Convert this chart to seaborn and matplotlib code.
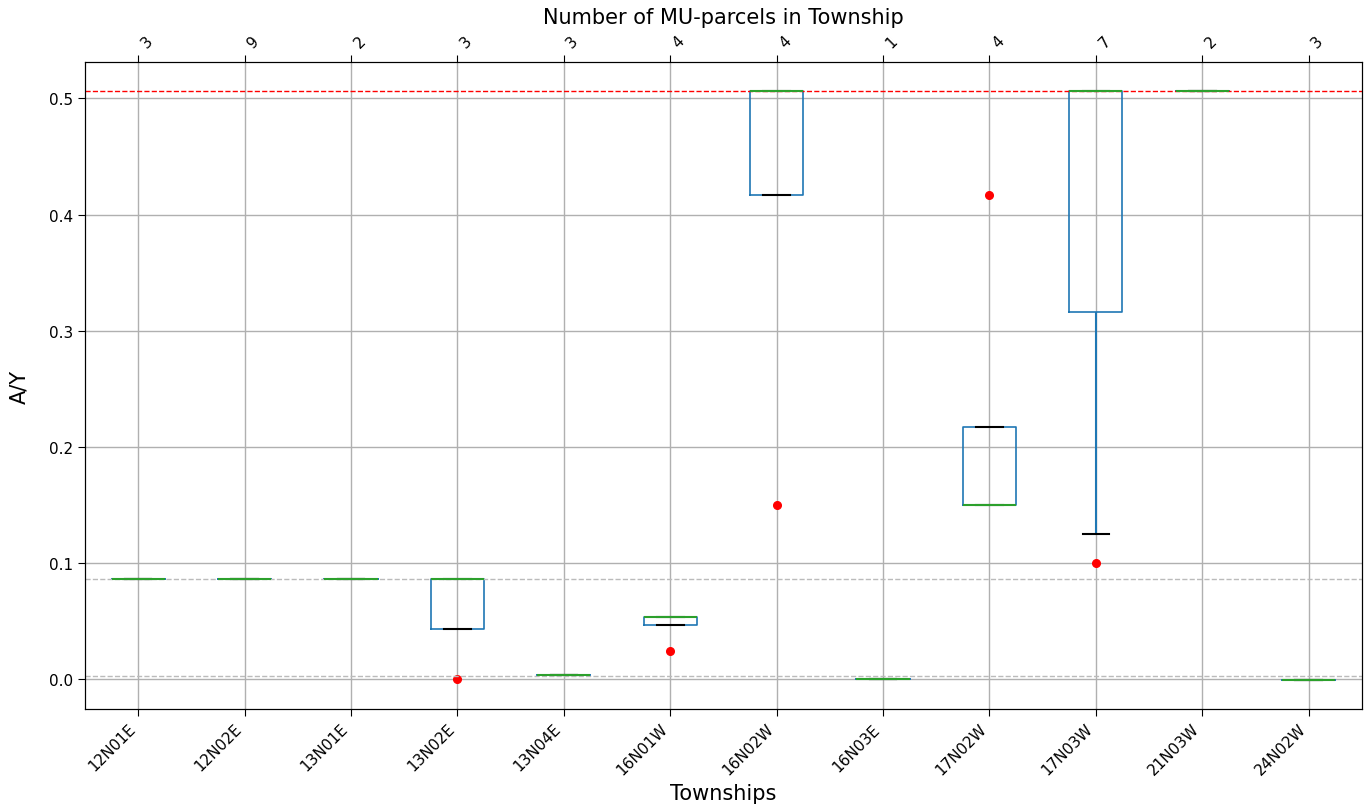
import matplotlib
matplotlib.use("Agg")
import matplotlib.pyplot as plt
import pandas as pd
import seaborn as sns

townships = ["12N01E", "12N02E", "13N01E", "13N02E", "13N04E", "16N01W",
             "16N02W", "16N03E", "17N02W", "17N03W", "21N03W", "24N02W"]
parcel_counts = [3, 9, 2, 3, 3, 4, 4, 1, 4, 7, 2, 3]
ay_values = [
    [0.0866, 0.0866, 0.0866],
    [0.0866] * 9,
    [0.0866, 0.0866],
    [0.0, 0.0866, 0.0866],
    [0.0035, 0.0035, 0.0035],
    [0.0245, 0.0537, 0.0537, 0.0537],
    [0.15, 0.506, 0.506, 0.506],
    [0.0005],
    [0.15, 0.15, 0.15, 0.417],
    [0.0997, 0.1254, 0.506, 0.506, 0.506, 0.506, 0.506],
    [0.506, 0.506],
    [-0.0003, -0.0003, -0.0003],
]
ref_red = 0.506
ref_gray = [0.0866, 0.0026]

rows = []
for t, vals in zip(townships, ay_values):
    for v in vals:
        rows.append({"township": t, "ay": v})
df = pd.DataFrame(rows)

fig, ax = plt.subplots(figsize=(13.66, 8.12), dpi=100)
fig.subplots_adjust(left=0.0622, right=0.997, top=0.9224, bottom=0.1256)

sns.boxplot(data=df, x="township", y="ay", order=townships, ax=ax,
            whis=(5, 95), width=0.5, fill=False, linewidth=1.2,
            boxprops=dict(color="C0"),
            whiskerprops=dict(color="C0", lw=1.5),
            capprops=dict(color="k", lw=1.5),
            medianprops=dict(color="C2", lw=1.5),
            flierprops=dict(marker="o", markerfacecolor="red",
                            markeredgecolor="red", markersize=5.5))

ax.axhline(ref_red, color="red", ls="--", lw=1)
for g in ref_gray:
    ax.axhline(g, color="#bbbbbb", ls="--", lw=1)

ax.grid(True, color="#b0b0b0", lw=1)
ax.set_axisbelow(True)
ax.set_xlabel("Townships", fontsize=15, labelpad=4)
ax.set_ylabel("A/Y", fontsize=15, labelpad=14)
ax.tick_params(labelsize=11, length=5)
plt.setp(ax.get_xticklabels(), rotation=45, ha="right")

ax2 = ax.twiny()
ax2.set_xlim(ax.get_xlim())
ax2.set_xticks(range(len(townships)))
ax2.set_xticklabels(parcel_counts, rotation=45, ha="left", fontsize=11)
ax2.tick_params(length=5)
ax2.set_xlabel("Number of MU-parcels in Township", fontsize=15, labelpad=7)

fig.savefig("out.png")
